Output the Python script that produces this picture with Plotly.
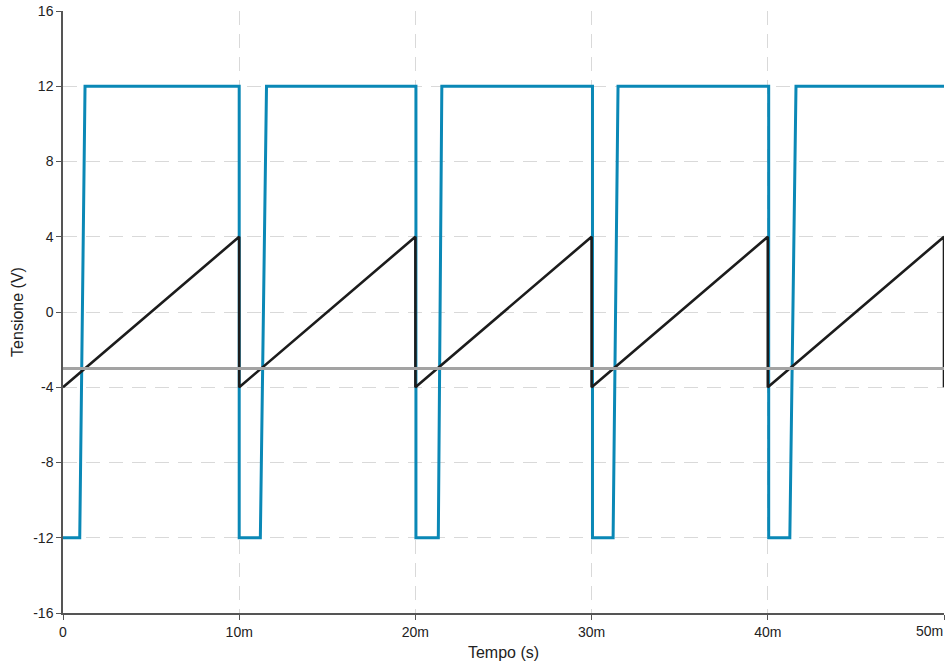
import plotly.graph_objects as go

# Time axis in seconds
period_starts = [0.0, 0.010, 0.020, 0.030, 0.040]
t_end = 0.050

# Sawtooth ramp (black): -4 V to 4 V over each 10 ms period
ramp_low = -4.0
ramp_high = 4.0

# Comparator reference (gray)
v_ref = -3.0

# Comparator output (blue): rising edge start/end per period (s)
rise_start = [0.00095, 0.01120, 0.02130, 0.03122, 0.04125]
rise_end = [0.00125, 0.01155, 0.02150, 0.03150, 0.04160]
fall_time = [0.01000, 0.02003, 0.03005, 0.04005]
v_out_low = -12.0
v_out_high = 12.0

# Axis ticks
x_tickvals = [0, 0.01, 0.02, 0.03, 0.04, 0.05]
x_ticktext = ["0", "10m", "20m", "30m", "40m", "50m"]
y_tickvals = [-16, -12, -8, -4, 0, 4, 8, 12, 16]
y_ticktext = ["-16", "-12", "-8", "-4", "0", "4", "8", "12", "16"]

# Build sawtooth polyline
saw_t, saw_v = [], []
for i, t0 in enumerate(period_starts):
    t1 = period_starts[i + 1] if i + 1 < len(period_starts) else t_end
    saw_t += [t0, t1]
    saw_v += [ramp_low, ramp_high]
saw_t.append(t_end)
saw_v.append(ramp_low)

# Build comparator output polyline
out_t, out_v = [0.0], [v_out_low]
for i in range(len(period_starts)):
    out_t += [rise_start[i], rise_end[i]]
    out_v += [v_out_low, v_out_high]
    if i < len(fall_time):
        out_t += [fall_time[i], fall_time[i]]
        out_v += [v_out_high, v_out_low]
out_t.append(t_end)
out_v.append(v_out_high)

fig = go.Figure()
fig.add_trace(go.Scatter(x=out_t, y=out_v, mode="lines",
                         line=dict(color="#0a88b6", width=3), hoverinfo="skip"))
fig.add_trace(go.Scatter(x=saw_t, y=saw_v, mode="lines",
                         line=dict(color="#1c1c1c", width=2.6), hoverinfo="skip"))
fig.add_trace(go.Scatter(x=[0, t_end], y=[v_ref, v_ref], mode="lines",
                         line=dict(color="#a3a3a3", width=3), hoverinfo="skip"))

axis_font = dict(family="Liberation Sans, Arial, sans-serif", size=14, color="#222222")

fig.update_layout(
    width=946, height=664,
    margin=dict(l=63, r=2, t=11, b=51),
    paper_bgcolor="white", plot_bgcolor="white",
    showlegend=False,
    font=axis_font,
)

# The last tick label sits flush with the right edge of the page
fig.add_annotation(
    x=1, xref="paper", xanchor="right",
    y=0, yref="paper", yanchor="top", yshift=-9,
    text=x_ticktext[-1], showarrow=False,
    font=axis_font, borderpad=0,
)

fig.update_xaxes(
    range=[0, 0.05],
    automargin=False,
    tickvals=x_tickvals, ticktext=x_ticktext[:-1] + [""],
    showgrid=True, gridcolor="#d9d9d9", griddash="14px,9px", gridwidth=1.2,
    zeroline=False,
    showline=True, linecolor="#555555", linewidth=1.5,
    ticks="outside", ticklen=5, tickcolor="#555555",
    title=dict(text="Tempo (s)", font=dict(size=16), standoff=8),
)
fig.update_yaxes(
    range=[-16, 16],
    automargin=False,
    tickvals=y_tickvals, ticktext=y_ticktext,
    showgrid=True, gridcolor="#d9d9d9", griddash="14px,9px", gridwidth=1.2,
    zeroline=False,
    showline=True, linecolor="#555555", linewidth=1.5,
    ticks="outside", ticklen=5, tickcolor="#555555",
    title=dict(text="Tensione (V)", font=dict(size=16), standoff=6),
)

fig.write_html("out.html")
